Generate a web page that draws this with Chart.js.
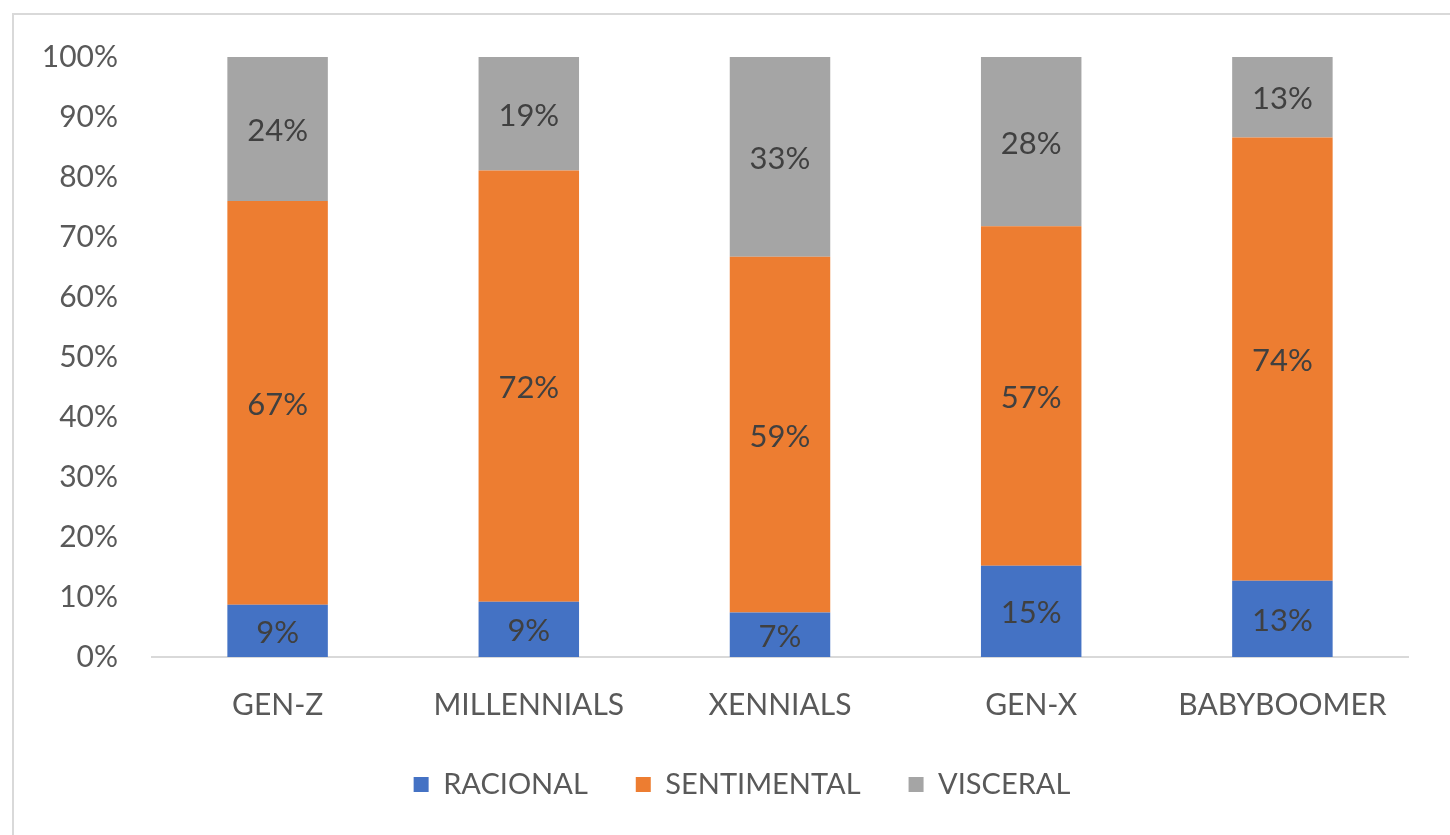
<!DOCTYPE html>
<html>
<head>
<meta charset="utf-8">
<script src="https://cdn.jsdelivr.net/npm/chart.js@4.4.1/dist/chart.umd.min.js"></script>
<style>
    html, body { margin: 0; padding: 0; background: #fff; overflow: hidden; width: 1450px; height: 835px; }
    .frame { position: absolute; left: 12px; top: 13px; width: 1500px; height: 900px; border-left: 2px solid #d9d9d9; border-top: 2px solid #d9d9d9; }
    .wrap { position: absolute; left: 14px; top: 5px; width: 1456px; height: 830px; }
</style>
</head>
<body>
<div class="frame"></div>
<div class="wrap"><canvas id="barChart"></canvas></div>
<script>
// datos del grafico (porcentajes por generacion)
const generaciones = ["GEN-Z", "MILLENNIALS", "XENNIALS", "GEN-X", "BABYBOOMER"]
const racional = [8.7, 9.2, 7.4, 15.2, 12.7]
const sentimental = [67.3, 71.9, 59.3, 56.6, 73.9]
const visceral = [24.0, 18.9, 33.3, 28.2, 13.4]
const yTicks = [0, 10, 20, 30, 40, 50, 60, 70, 80, 90, 100]

const fontName = "Lato, 'Open Sans', sans-serif"

// etiquetas dentro de cada barra
const barLabels = {
    id: "barLabels",
    afterDatasetsDraw(chart) {
        const ctx = chart.ctx
        ctx.save()
        ctx.font = "31px " + fontName
        ctx.fillStyle = "#404040"
        ctx.textAlign = "center"
        ctx.textBaseline = "middle"
        chart.data.datasets.forEach((ds, i) => {
            const meta = chart.getDatasetMeta(i)
            meta.data.forEach((bar, j) => {
                const p = bar.getProps(["x", "y", "base"], true)
                ctx.fillText(Math.round(ds.data[j]) + "%", p.x, (p.y + p.base) / 2 + 2)
            })
        })
        ctx.restore()
    }
}

new Chart(document.getElementById("barChart"), {
    type: "bar",
    data: {
        labels: generaciones,
        datasets: [
            { label: "RACIONAL", data: racional, backgroundColor: "#4472C4" },
            { label: "SENTIMENTAL", data: sentimental, backgroundColor: "#ED7D31" },
            { label: "VISCERAL", data: visceral, backgroundColor: "#A5A5A5" }
        ]
    },
    options: {
        responsive: true,
        maintainAspectRatio: false,
        animation: false,
        layout: { padding: { left: 0, top: 0, right: 0, bottom: 26 } },
        datasets: { bar: { barPercentage: 0.4, categoryPercentage: 1 } },
        scales: {
            x: {
                stacked: true,
                grid: { display: false, drawTicks: false },
                border: { display: true, color: "#d9d9d9", width: 2 },
                ticks: { color: "#595959", font: { family: fontName, size: 30 }, padding: 30 },
                afterFit(scale) { scale.height = 65 }
            },
            y: {
                stacked: true,
                min: yTicks[0],
                max: yTicks[yTicks.length - 1],
                grid: { display: false, drawTicks: false },
                border: { display: false },
                ticks: {
                    stepSize: yTicks[1] - yTicks[0],
                    color: "#595959",
                    font: { family: fontName, size: 30 },
                    padding: 34,
                    callback: v => v + "%"
                },
                afterFit(scale) { scale.width = 138 }
            },
            // eje vacio a la derecha para dejar el margen del original
            margen: {
                position: "right",
                display: true,
                grid: { display: false, drawTicks: false },
                border: { display: false },
                ticks: { display: false },
                afterFit(scale) { scale.width = 62 }
            }
        },
        plugins: {
            legend: {
                position: "bottom",
                labels: {
                    color: "#595959",
                    font: { family: fontName, size: 29 },
                    boxWidth: 15,
                    boxHeight: 15,
                    padding: 48
                }
            },
            tooltip: { enabled: false }
        }
    },
    plugins: [barLabels]
})
</script>
</body>
</html>
